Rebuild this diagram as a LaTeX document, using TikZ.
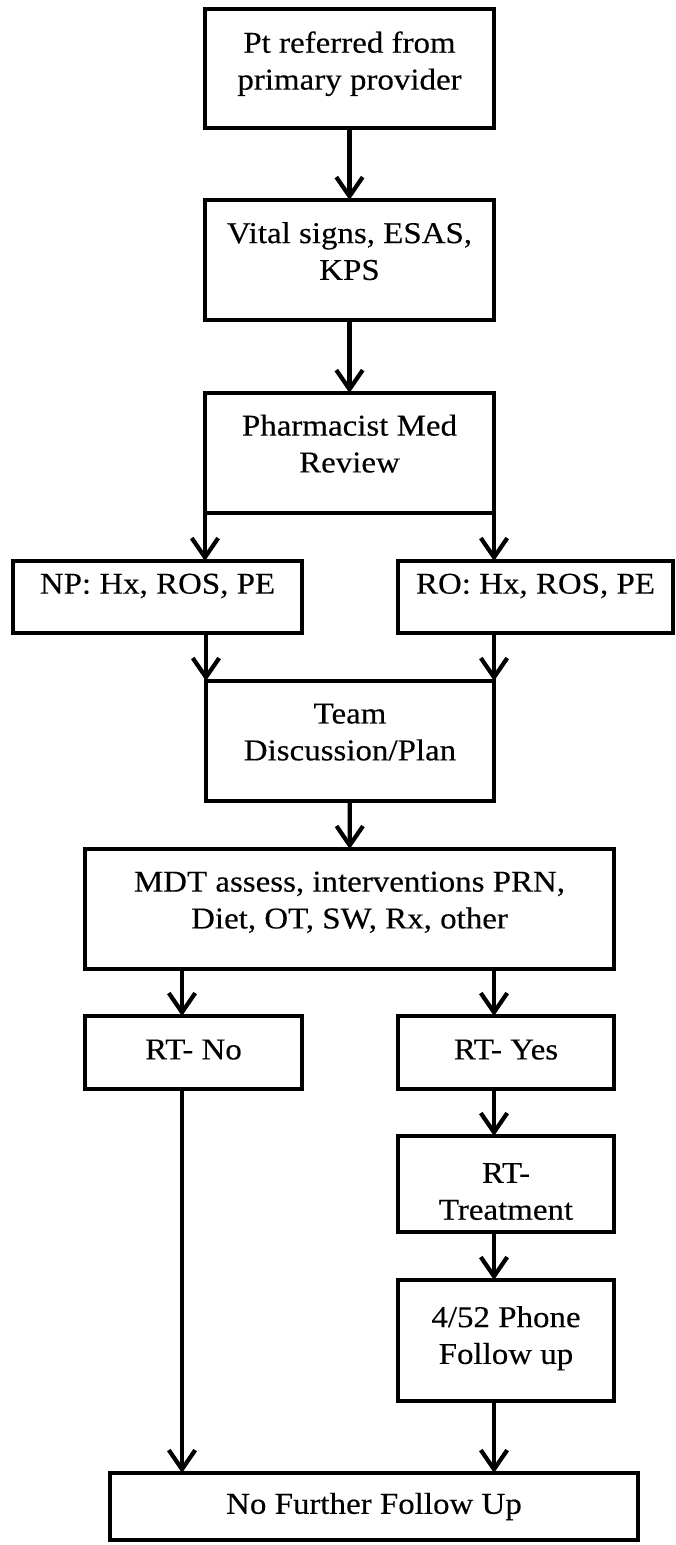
\documentclass[tikz,border=0pt]{standalone}
\usepackage{fontspec}
\setmainfont{Liberation Serif}[FakeStretch=1.09,FakeBold=0.3]
\usetikzlibrary{arrows.meta}
\newcommand{\sink}[1]{\rule[-#1]{0pt}{0pt}}
\newcommand{\lift}[1]{\rule{0pt}{#1}}
\tikzset{box/.style={draw,rectangle,line width=3pt,inner sep=0pt,outer sep=0pt,align=center,
                     font=\fontsize{21.5}{26.2}\selectfont},
         arr/.style={line width=3pt,-{Straight Barb[length=4.8mm,width=6.6mm]}},
         }

\begin{document}
\begin{tikzpicture}[x=0.025cm, y=-0.025cm]
\useasboundingbox (0,0) rectangle (676,1545);
\node[box, minimum width=7.225cm, minimum height=2.975cm] (referral) at (349.5,68.5) {Pt referred from\\primary provider\sink{11.4pt}};
\node[box, minimum width=7.225cm, minimum height=3cm] (vitals) at (349.5,260) {Vital signs, ESAS,\\KPS\sink{12.8pt}};
\node[box, minimum width=7.225cm, minimum height=3cm] (pharm) at (349.5,453) {Pharmacist Med\\Review\sink{13.5pt}};
\node[box, minimum width=7.225cm, minimum height=1.8cm] (np) at (157.5,597) {NP: Hx, ROS, PE\sink{19pt}};
\node[box, minimum width=6.875cm, minimum height=1.8cm] (ro) at (535.5,597) {RO: Hx, ROS, PE\sink{19pt}};
\node[box, minimum width=7.2cm, minimum height=3cm] (team) at (350,741) {Team\\Discussion/Plan\sink{12.8pt}};
\node[box, minimum width=13.225cm, minimum height=3cm] (mdt) at (349.5,909) {MDT assess, interventions PRN,\\Diet, OT, SW, Rx, other\sink{12.8pt}};
\node[box, minimum width=5.425cm, minimum height=1.825cm] (rtno) at (193.5,1052.5) {RT- No\sink{4.3pt}};
\node[box, minimum width=5.4cm, minimum height=1.825cm] (rtyes) at (506,1052.5) {RT- Yes\sink{4.3pt}};
\node[box, minimum width=5.4cm, minimum height=2.4cm] (rttreat) at (506,1184) {\lift{24.8pt}RT-\\Treatment};
\node[box, minimum width=5.4cm, minimum height=3.025cm] (phone) at (506,1340.5) {4/52 Phone\\Follow up\sink{7.8pt}};
\node[box, minimum width=13.2cm, minimum height=1.675cm] (final) at (374,1506.5) {No Further Follow Up};
\coordinate (nocol) at (182,0);
\coordinate (yescol) at (494,0);
\draw[arr] (referral) -- (vitals);
\draw[arr] (vitals) -- (pharm);
\draw[arr] (pharm.south west) -- (pharm.south west |- np.north);
\draw[arr] (pharm.south east) -- (pharm.south east |- ro.north);
\draw[arr] (team.north west |- np.south) -- (team.north west);
\draw[arr] (team.north east |- ro.south) -- (team.north east);
\draw[arr] (team) -- (mdt);
\draw[arr] (mdt.south -| nocol) -- (rtno.north -| nocol);
\draw[arr] (mdt.south -| yescol) -- (rtyes.north -| yescol);
\draw[arr] (rtyes.south -| yescol) -- (rttreat.north -| yescol);
\draw[arr] (rttreat.south -| yescol) -- (phone.north -| yescol);
\draw[arr] (phone.south -| yescol) -- (final.north -| yescol);
\draw[arr] (rtno.south -| nocol) -- (final.north -| nocol);
\end{tikzpicture}
\end{document}
